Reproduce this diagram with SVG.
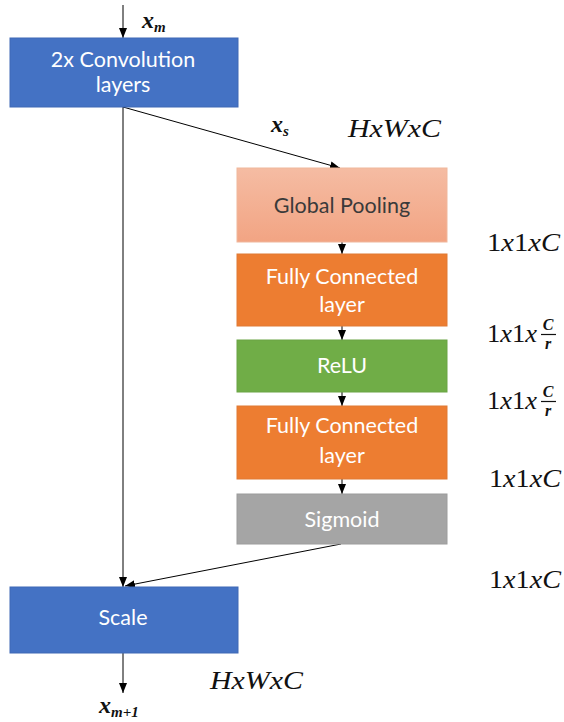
<svg xmlns="http://www.w3.org/2000/svg" width="564" height="722" viewBox="0 0 564 722">
  <style>
    .box-text { font-family: Lato, "Liberation Sans", sans-serif; font-size: 21.5px; fill: #ffffff; text-anchor: middle; }
    .dark-text { fill: #3a3a3a; }
    .math { font-family: "Liberation Serif", "DejaVu Serif", serif; font-size: 26px; fill: #111111; }
    .it { font-style: italic; }
    .var { font-family: "Liberation Serif", "DejaVu Serif", serif; font-weight: bold; font-style: italic; fill: #111111; }
    .frac { font-family: "Liberation Serif", "DejaVu Serif", serif; font-weight: bold; font-style: italic; font-size: 16px; fill: #111111; text-anchor: middle; }
    .link { stroke: #000000; stroke-width: 1; fill: none; marker-end: url(#arrow); }
    .bar { stroke: #111111; stroke-width: 1.2; }
  </style>
  <defs>
    <marker id="arrow" viewBox="0 0 10 8" refX="10" refY="4" markerWidth="10" markerHeight="8" markerUnits="userSpaceOnUse" orient="auto">
      <path d="M0,0 L10,4 L0,8 Z" fill="#000000"/>
    </marker>
    <linearGradient id="poolFill" x1="0" y1="0" x2="0" y2="1">
      <stop offset="0" stop-color="#f5bca3"/>
      <stop offset="1" stop-color="#f2a483"/>
    </linearGradient>
  </defs>

  <rect width="564" height="722" fill="#ffffff"/>

  <!-- connectors -->
  <g id="connectors">
    <line class="link" x1="123" y1="5" x2="123" y2="38"/>
    <line class="link" x1="123" y1="107" x2="340" y2="168"/>
    <line class="link" x1="123" y1="107" x2="123" y2="587"/>
    <line class="link" x1="342" y1="242" x2="342" y2="254"/>
    <line class="link" x1="342" y1="326" x2="342" y2="340"/>
    <line class="link" x1="342" y1="392" x2="342" y2="406"/>
    <line class="link" x1="342" y1="479" x2="342" y2="494"/>
    <line class="link" x1="341" y1="544" x2="125" y2="586"/>
    <line class="link" x1="123" y1="653" x2="123" y2="693"/>
  </g>

  <!-- nodes -->
  <g id="conv">
    <rect x="10" y="38" width="228" height="69" fill="#4472c4" stroke="#3f69b5" stroke-width="1"/>
    <text class="box-text" x="123" y="67">2x Convolution</text>
    <text class="box-text" x="123" y="92">layers</text>
  </g>

  <g id="pool">
    <rect x="237" y="168" width="210" height="74" fill="url(#poolFill)" stroke="#f0b79c" stroke-width="1"/>
    <text class="box-text dark-text" x="342" y="213">Global Pooling</text>
  </g>

  <g id="fc1">
    <rect x="237" y="254" width="210" height="72" fill="#ed7d31" stroke="#e07a35" stroke-width="1"/>
    <text class="box-text" x="342" y="284">Fully Connected</text>
    <text class="box-text" x="342" y="312">layer</text>
  </g>

  <g id="relu">
    <rect x="237" y="340" width="210" height="52" fill="#70ad47" stroke="#6aa444" stroke-width="1"/>
    <text class="box-text" x="342" y="373">ReLU</text>
  </g>

  <g id="fc2">
    <rect x="237" y="406" width="210" height="73" fill="#ed7d31" stroke="#e07a35" stroke-width="1"/>
    <text class="box-text" x="342" y="433">Fully Connected</text>
    <text class="box-text" x="342" y="463">layer</text>
  </g>

  <g id="sigmoid">
    <rect x="237" y="494" width="210" height="50" fill="#a5a5a5" stroke="#9c9c9c" stroke-width="1"/>
    <text class="box-text" x="342" y="527">Sigmoid</text>
  </g>

  <g id="scale">
    <rect x="10" y="587" width="228" height="66" fill="#4472c4" stroke="#3f69b5" stroke-width="1"/>
    <text class="box-text" x="123" y="625">Scale</text>
  </g>

  <!-- variable labels -->
  <g id="labels">
    <text class="var" x="142" y="28" font-size="24">x<tspan font-size="15" dy="4">m</tspan></text>
    <text class="var" x="271" y="132" font-size="24">x<tspan font-size="15" dy="4">s</tspan></text>
    <text class="var" x="99" y="713" font-size="24">x<tspan font-size="15" dy="4">m+1</tspan></text>

    <text class="math it" x="348" y="137" textLength="93" lengthAdjust="spacingAndGlyphs">HxWxC</text>
    <text class="math it" x="210" y="689" textLength="93" lengthAdjust="spacingAndGlyphs">HxWxC</text>

    <text class="math" x="487" y="251" textLength="73" lengthAdjust="spacingAndGlyphs">1<tspan class="it">x</tspan>1<tspan class="it">xC</tspan></text>

    <text class="math" x="487" y="342" font-size="23" textLength="50" lengthAdjust="spacingAndGlyphs">1<tspan class="it">x</tspan>1<tspan class="it">x</tspan></text>
    <text class="frac" x="548" y="330">C</text>
    <line class="bar" x1="541" y1="334.5" x2="556" y2="334.5"/>
    <text class="frac" x="548" y="349">r</text>

    <text class="math" x="487" y="409" font-size="23" textLength="50" lengthAdjust="spacingAndGlyphs">1<tspan class="it">x</tspan>1<tspan class="it">x</tspan></text>
    <text class="frac" x="548" y="397">C</text>
    <line class="bar" x1="541" y1="401.5" x2="556" y2="401.5"/>
    <text class="frac" x="548" y="416">r</text>

    <text class="math" x="489" y="487" textLength="72" lengthAdjust="spacingAndGlyphs">1<tspan class="it">x</tspan>1<tspan class="it">xC</tspan></text>
    <text class="math" x="489" y="588" textLength="72" lengthAdjust="spacingAndGlyphs">1<tspan class="it">x</tspan>1<tspan class="it">xC</tspan></text>
  </g>
</svg>
